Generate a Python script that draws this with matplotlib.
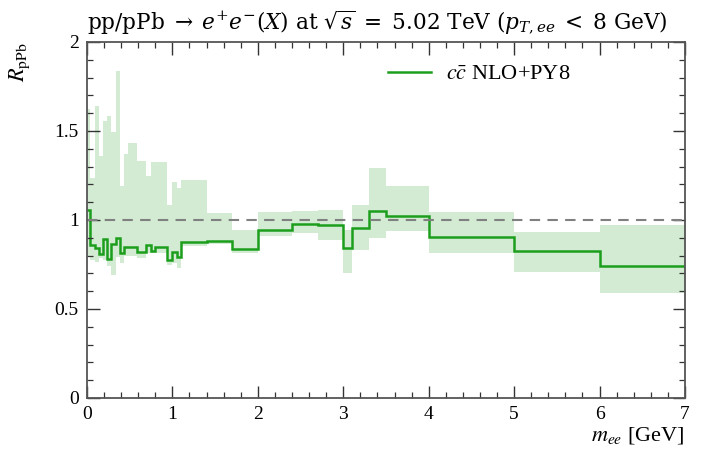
import matplotlib
matplotlib.use("Agg")
import matplotlib.pyplot as plt
from matplotlib.ticker import MultipleLocator, FuncFormatter
import numpy as np

# Bin edges in m_ee [GeV]
edges = [0, 0.04, 0.09, 0.14, 0.19, 0.235, 0.285, 0.335, 0.385, 0.435, 0.485,
         0.535, 0.59, 0.69, 0.745, 0.8, 0.94, 0.99, 1.05, 1.1, 1.4, 1.7, 2.0,
         2.4, 2.7, 3.0, 3.1, 3.3, 3.5, 4.0, 5.0, 6.0, 7.0]

# R_pPb central values (c cbar NLO+PY8)
r_central = [1.058, 0.86, 0.845, 0.809, 0.891, 0.781, 0.865, 0.897, 0.813,
             0.848, 0.848, 0.848, 0.818, 0.86, 0.827, 0.847, 0.775, 0.818,
             0.794, 0.878, 0.884, 0.837, 0.942, 0.976, 0.97, 0.841, 0.957,
             1.052, 1.024, 0.903, 0.826, 0.74]

# uncertainty band
r_upper = [1.624, 1.234, 1.64, 1.36, 1.556, 1.584, 1.496, 1.837, 1.193, 1.369,
           1.434, 1.434, 1.331, 1.247, 1.328, 1.328, 1.084, 1.215, 1.18, 1.225,
           1.038, 0.944, 1.047, 1.05, 1.056, 0.944, 1.084, 1.294, 1.191, 1.047,
           0.931, 0.972]
r_lower = [0.79, 0.775, 0.765, 0.785, 0.775, 0.742, 0.69, 0.79, 0.76, 0.80,
           0.80, 0.80, 0.788, 0.816, 0.816, 0.813, 0.747, 0.76, 0.728, 0.854,
           0.866, 0.815, 0.912, 0.929, 0.888, 0.704, 0.831, 0.897, 0.938,
           0.813, 0.71, 0.588]

plt.rcParams["font.family"] = ["Liberation Serif", "DejaVu Serif"]
plt.rcParams["mathtext.fontset"] = "stix"

fig = plt.figure(figsize=(7.06, 4.59), dpi=100)
ax = fig.add_axes([0.1232, 0.1329, 0.8470, 0.7756])

green = "#1c9e1c"
ax.stairs(r_upper, edges, baseline=r_lower, fill=True, color="#d2ebd2",
          linewidth=0)
ax.stairs(r_central, edges, baseline=None, color=green, linewidth=1.8,
          label=r"$c\bar{c}$ NLO+PY8")
ax.axhline(1.0, color="#808080", linestyle=(0, (5, 3.5)), linewidth=1.5)

ax.set_xlim(0, 7)
ax.set_ylim(0, 2)
ax.xaxis.set_major_locator(MultipleLocator(1))
ax.xaxis.set_minor_locator(MultipleLocator(0.2))
ax.yaxis.set_major_locator(MultipleLocator(0.5))
ax.yaxis.set_minor_locator(MultipleLocator(0.1))
ax.yaxis.set_major_formatter(FuncFormatter(lambda v, p: "%g" % v))
ax.tick_params(which="both", direction="in", top=True, right=True,
               labelsize=14, color="#333333")
ax.tick_params(which="major", length=9, width=1.0, pad=6)
ax.tick_params(which="minor", length=4.5, width=0.9)
for s in ax.spines.values():
    s.set_color("#555555")
    s.set_linewidth(1.3)

ax.set_xlabel(r"$m_{ee}$ [GeV]", fontsize=16, loc="right", labelpad=1)
ax.set_ylabel(r"$R_{\mathrm{pPb}}$", fontsize=16, loc="top", labelpad=16)
ax.set_title(r"$\mathrm{pp/pPb} \;\rightarrow\; e^{+}e^{-}(X)$ at "
             r"$\sqrt{s} \;=\; 5.02$ TeV ($p_{T,ee} \;<\; 8$ GeV)",
             fontsize=15.6, loc="left", pad=9, family="DejaVu Serif",
             math_fontfamily="dejavuserif")

ax.legend(loc="upper right", bbox_to_anchor=(0.842, 0.995), frameon=False,
          fontsize=16, handlelength=1.9, handletextpad=0.7)

fig.savefig("out.png", dpi=100)
